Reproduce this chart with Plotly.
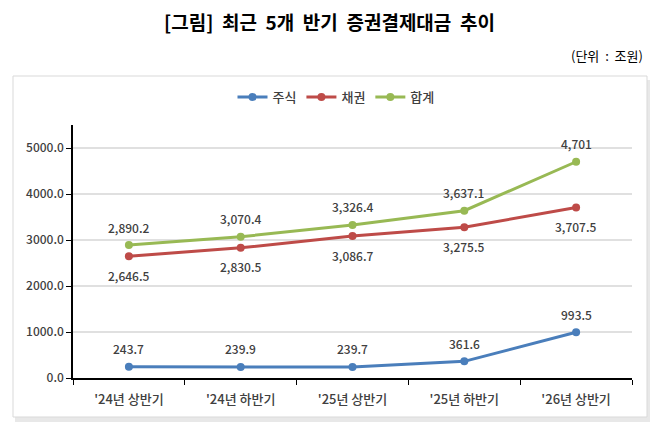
import plotly.graph_objects as go

categories = ["'24년 상반기", "'24년 하반기", "'25년 상반기", "'25년 하반기", "'26년 상반기"]
stock = [243.7, 239.9, 239.7, 361.6, 993.5]
bond = [2646.5, 2830.5, 3086.7, 3275.5, 3707.5]
total = [2890.2, 3070.4, 3326.4, 3637.1, 4701]
stock_labels = ["243.7", "239.9", "239.7", "361.6", "993.5"]
bond_labels = ["2,646.5", "2,830.5", "3,086.7", "3,275.5", "3,707.5"]
total_labels = ["2,890.2", "3,070.4", "3,326.4", "3,637.1", "4,701"]
y_ticks = [0, 1000, 2000, 3000, 4000, 5000]

FONT = "Noto Sans CJK KR"
TXT = "#404040"
series = [
    ("주식", stock, stock_labels, "#4A7EBB", 18),
    ("채권", bond, bond_labels, "#BE4B48", -19),
    ("합계", total, total_labels, "#98B954", 18),
]

W, H = 658, 428
L, R, T, B = 73, 632, 125, 378
pw, ph = R - L, B - T

def px_x(x):
    return (x - L) / pw

def px_y(y):
    return (B - y) / ph

fig = go.Figure()
annotations = []
for name, vals, labels, color, shift in series:
    fig.add_trace(go.Scatter(
        x=categories, y=vals, name=name, mode="lines+markers",
        line=dict(color=color, width=3),
        marker=dict(color=color, size=8),
    ))
    for c, v, t in zip(categories, vals, labels):
        annotations.append(dict(
            x=c, y=v, xref="x", yref="y", text=t, showarrow=False,
            yshift=shift, font=dict(family=FONT, size=12, color=TXT, weight=500),
        ))

annotations.append(dict(
    x=px_x(329), y=px_y(22), xref="paper", yref="paper", xanchor="center", yanchor="middle",
    text="<b>[그림]  최근  5개  반기  증권결제대금  추이</b>", showarrow=False,
    font=dict(family=FONT, size=19, color="#000000"),
))
annotations.append(dict(
    x=px_x(645), y=px_y(55), xref="paper", yref="paper", xanchor="right", yanchor="middle",
    text="(단위&nbsp;&nbsp;:&nbsp;&nbsp;조원)", showarrow=False,
    font=dict(family=FONT, size=13, color="#000000"),
))

shapes = [
    dict(type="rect", xref="paper", yref="paper",
         x0=px_x(15), x1=px_x(650), y0=px_y(80), y1=px_y(422),
         fillcolor="#e8e8e8", line=dict(width=0), layer="below"),
    dict(type="rect", xref="paper", yref="paper",
         x0=px_x(13), x1=px_x(647), y0=px_y(76), y1=px_y(417),
         fillcolor="#ffffff", line=dict(color="#d9d9d9", width=1), layer="below"),
]

fig.update_layout(
    width=W, height=H,
    margin=dict(l=L, r=W - R, t=T, b=H - B),
    paper_bgcolor="#ffffff", plot_bgcolor="rgba(0,0,0,0)",
    font=dict(family=FONT, size=12, color=TXT),
    showlegend=True,
    legend=dict(orientation="h", xref="container", yref="container",
                x=336 / W, y=1 - 97 / H, xanchor="center", yanchor="middle",
                font=dict(family=FONT, size=13, color=TXT, weight=500),
                itemwidth=30, bgcolor="rgba(0,0,0,0)"),
    annotations=annotations,
    shapes=shapes,
)
fig.update_xaxes(
    type="category", range=[-0.5, 4.5], showline=True, linecolor="#000000", linewidth=1.5,
    ticks="outside", tickson="boundaries", ticklen=5, tickcolor="#000000",
    showgrid=False, tickfont=dict(family=FONT, size=13, color=TXT, weight=500),
    ticklabelstandoff=9,
)
fig.update_yaxes(
    range=[0, 5500], tickvals=y_ticks, tickformat=".1f",
    showline=True, linecolor="#000000", linewidth=1.5,
    ticks="outside", ticklen=5, tickcolor="#000000",
    showgrid=True, gridcolor="#e0e0e0", gridwidth=1.5, zeroline=False,
    tickfont=dict(family=FONT, size=12, color=TXT, weight=500),
)
fig.write_html("out.html")
